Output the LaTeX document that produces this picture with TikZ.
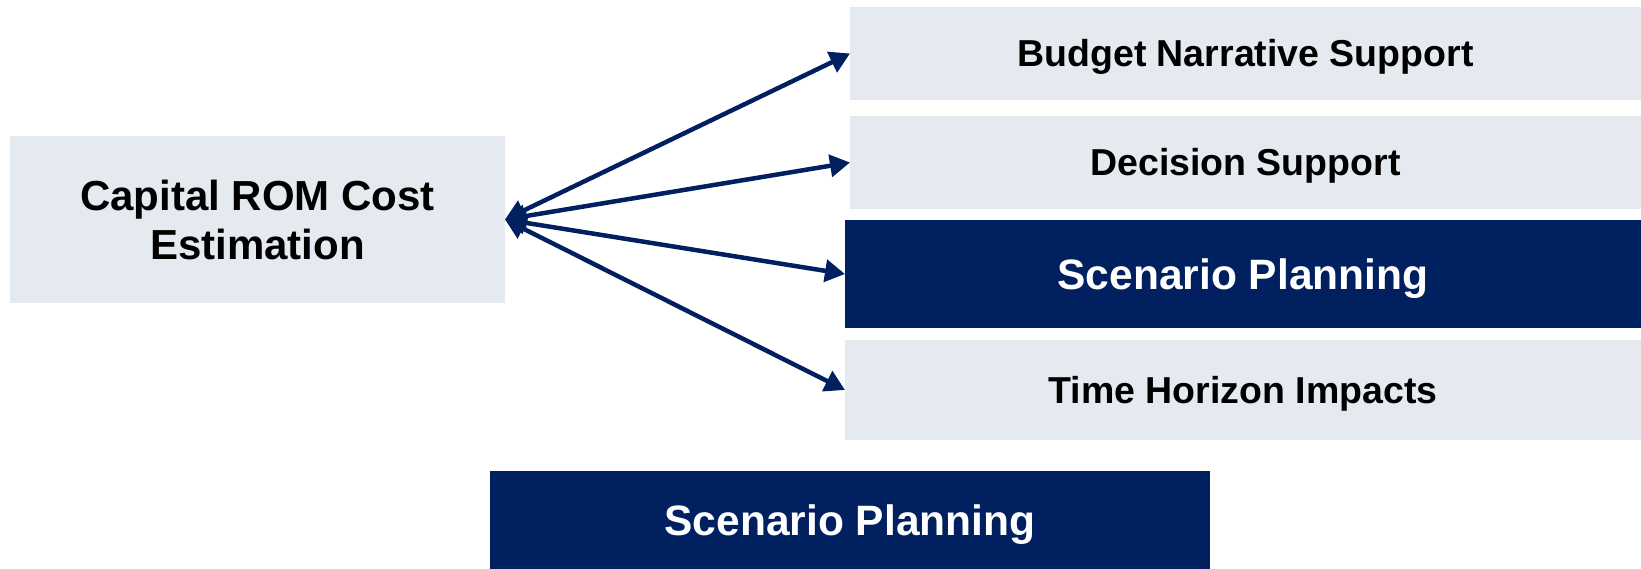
\documentclass[tikz,border=0pt]{standalone}
\usepackage{fontspec}
\setmainfont{Liberation Sans}
\usetikzlibrary{arrows.meta}
\definecolor{lightbox}{HTML}{E5E9F0}
\definecolor{navy}{HTML}{002060}
\tikzset{
  boxbase/.style={inner sep=0pt, outer sep=0pt, align=center, font=\bfseries},
  lightnode/.style={boxbase, fill=lightbox, text=black},
  darknode/.style={boxbase, fill=navy, text=white},
  smalltext/.style={font=\bfseries\fontsize{37.5}{44}\selectfont,
    text height=26.9pt, text depth=0pt},
  bigtext/.style={font=\bfseries\fontsize{42.5}{50}\selectfont,
    text height=30.4pt, text depth=0pt},
  conn/.style={draw=navy, line width=4.5pt,
    {Triangle[length=20pt,width=22pt]}-{Triangle[length=20pt,width=22pt]}},
}
\begin{document}
\begin{tikzpicture}[x=1pt,y=-1pt]
\useasboundingbox (0,0) rectangle (1641,569);
\node[lightnode, minimum width=495pt, minimum height=167pt,
      font=\bfseries\fontsize{42}{49}\selectfont] (cap) at (257.5,219.5)
      {Capital ROM Cost\\Estimation};
\node[lightnode, smalltext, minimum width=791pt, minimum height=93pt]
      (bud) at (1245.5,53.5) {Budget Narrative Support};
\node[lightnode, smalltext, minimum width=791pt, minimum height=93pt]
      (dec) at (1245.5,162.5) {Decision Support};
\node[darknode, bigtext, minimum width=796pt, minimum height=108pt]
      (scen) at (1243,274) {Scenario Planning};
\node[lightnode, smalltext, minimum width=796pt, minimum height=100pt]
      (time) at (1243,390) {Time Horizon Impacts};
\node[darknode, bigtext, minimum width=720pt, minimum height=98pt]
      (bot) at (850,520) {Scenario Planning};
\draw[conn] (cap.east) -- (bud.west);
\draw[conn] (cap.east) -- (dec.west);
\draw[conn] (cap.east) -- (scen.west);
\draw[conn] (cap.east) -- (time.west);
\end{tikzpicture}
\end{document}
